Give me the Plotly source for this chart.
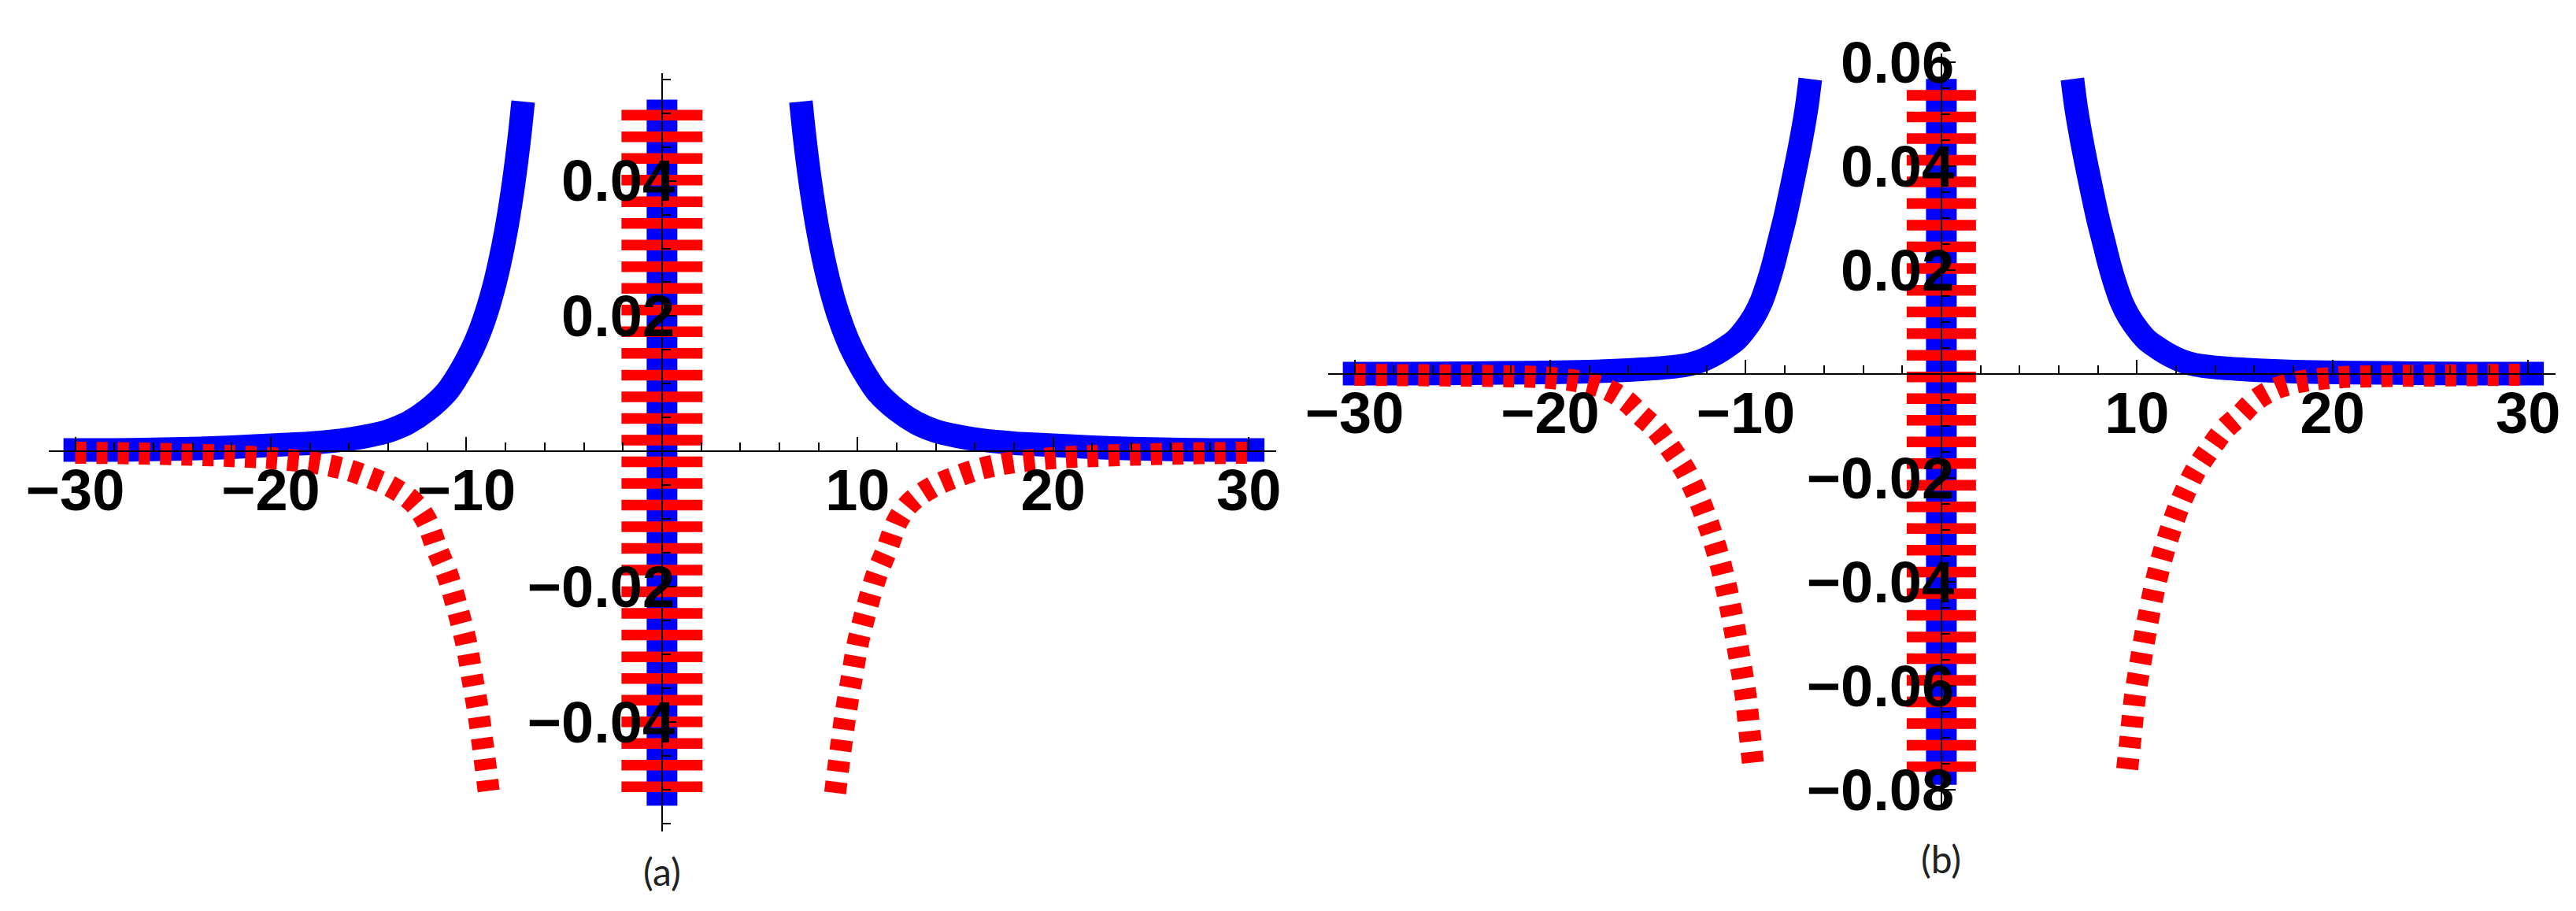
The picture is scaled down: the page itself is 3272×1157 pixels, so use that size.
import plotly.graph_objects as go

# ---------------- data ----------------
x_ticks = [-30, -20, -10, 10, 20, 30]
ya_ticks = [-0.04, -0.02, 0.02, 0.04]
yb_ticks = [-0.08, -0.06, -0.04, -0.02, 0.02, 0.04, 0.06]

# panel (a)
a_blue_left_x = [-30.6, -28, -26, -24, -22, -20, -18, -16, -15, -14, -13, -12, -11, -10.5, -10, -9.5, -9, -8.5, -8, -7.6, -7.3, -7.1]
a_blue_left_y = [0.0002, 0.0002, 0.0003, 0.0004, 0.0006, 0.0009, 0.0012, 0.0018, 0.0023, 0.0030, 0.0042, 0.0061, 0.0088, 0.0109, 0.0134, 0.0164, 0.0203, 0.0254, 0.0322, 0.0394, 0.0462, 0.0517]
a_blue_right_x = [7.1, 7.3, 7.6, 8, 8.5, 9, 9.5, 10, 10.5, 11, 12, 13, 14, 15, 16, 18, 20, 22, 24, 26, 28, 30.8]
a_blue_right_y = [0.0517, 0.0462, 0.0394, 0.0322, 0.0254, 0.0203, 0.0164, 0.0134, 0.0109, 0.0088, 0.0061, 0.0042, 0.0030, 0.0023, 0.0018, 0.0012, 0.0009, 0.0006, 0.0004, 0.0003, 0.0002, 0.0002]
a_red_left_x = [-30, -27, -24, -22, -20, -18, -17, -16, -15, -14, -13, -12.5, -12, -11.5, -11, -10.5, -10, -9.7, -9.4, -9.1, -8.85]
a_red_left_y = [-0.0002, -0.0003, -0.0005, -0.0007, -0.0010, -0.0016, -0.0021, -0.0028, -0.0038, -0.0050, -0.0068, -0.0082, -0.0105, -0.0145, -0.0180, -0.0228, -0.0285, -0.0335, -0.0385, -0.0448, -0.0505]
a_red_right_x = [8.85, 9.1, 9.4, 9.7, 10, 10.5, 11, 11.5, 12, 12.5, 13, 14, 15, 16, 17, 18, 20, 22, 24, 27, 30]
a_red_right_y = [-0.0505, -0.0448, -0.0385, -0.0335, -0.0285, -0.0228, -0.0180, -0.0145, -0.0105, -0.0082, -0.0068, -0.0050, -0.0038, -0.0028, -0.0021, -0.0016, -0.0010, -0.0007, -0.0005, -0.0003, -0.0002]
a_center_x = [0, 0]
a_center_blue_y = [0.0520, -0.0524]
a_center_red_y = [0.0505, -0.0504]

# panel (b)
b_blue_left_x = [-30.6, -27, -24, -21, -18, -16, -14, -13, -12.4, -11.5, -11, -10.5, -10.1, -9.6, -9.2, -8.9, -8.6, -8.3, -8.0, -7.6, -7.2, -6.9, -6.7]
b_blue_left_y = [0.0001, 0.0001, 0.0002, 0.0003, 0.0005, 0.0008, 0.0013, 0.0018, 0.0024, 0.0040, 0.0052, 0.0066, 0.0083, 0.0110, 0.0140, 0.0172, 0.0210, 0.0255, 0.0300, 0.0370, 0.0445, 0.0510, 0.0568]
b_blue_right_x = [6.7, 6.9, 7.2, 7.6, 8.0, 8.3, 8.6, 8.9, 9.2, 9.6, 10.1, 10.5, 11, 11.5, 12.4, 13, 14, 16, 18, 21, 24, 27, 30.8]
b_blue_right_y = [0.0568, 0.0510, 0.0445, 0.0370, 0.0300, 0.0255, 0.0210, 0.0172, 0.0140, 0.0110, 0.0083, 0.0066, 0.0052, 0.0040, 0.0024, 0.0018, 0.0013, 0.0008, 0.0005, 0.0003, 0.0002, 0.0001, 0.0001]
b_red_left_x = [-30, -27, -24, -22, -20.4, -19, -18.1, -17.3, -16.6, -16, -15.4, -14.6, -13.9, -13.1, -12.4, -11.9, -11.4, -11, -10.6, -10.3, -10, -9.8, -9.6]
b_red_left_y = [-0.0001, -0.0002, -0.0003, -0.0004, -0.0006, -0.0011, -0.0017, -0.0026, -0.0039, -0.0055, -0.0078, -0.0105, -0.0140, -0.0185, -0.0240, -0.0290, -0.0350, -0.0410, -0.0485, -0.0550, -0.0620, -0.0690, -0.0760]
b_red_right_x = [9.5, 9.7, 9.9, 10.2, 10.5, 10.9, 11.3, 11.8, 12.3, 13.0, 13.8, 14.5, 15.3, 15.9, 16.5, 17.2, 18.0, 18.9, 20.3, 22, 24, 27, 30]
b_red_right_y = [-0.0760, -0.0690, -0.0620, -0.0550, -0.0485, -0.0410, -0.0350, -0.0290, -0.0240, -0.0185, -0.0140, -0.0105, -0.0078, -0.0055, -0.0039, -0.0026, -0.0017, -0.0011, -0.0006, -0.0004, -0.0003, -0.0002, -0.0001]
b_center_x = [0, 0]
b_center_blue_y = [0.0568, -0.0790]
b_center_red_y = [0.0547, -0.0765]

# ---------------- layout constants ----------------
W, H = 3272, 1157
X_RANGE = [-31.35, 31.4]
A_YRANGE = [-0.0562, 0.0559]
B_YRANGE = [-0.0839, 0.0617]
A_BOX = (62, 1621, 93, 1056)     # x0, x1, ytop, ybottom in px
B_BOX = (1687, 3246, 68, 1029)

BLUE = "#0000ff"
RED = "#ff0000"
LW = 30
DASH = "14px,13px"
BAR_DASH = "13.5px,14.02px"

fig = go.Figure()


def add_panel(xa, ya, blue_l, blue_r, red_l, red_r, cx, cby, cry, red_center_w):
    for (xs, ys) in (blue_l, blue_r):
        fig.add_trace(go.Scatter(x=xs, y=ys, mode="lines", xaxis=xa, yaxis=ya,
                                 line=dict(color=BLUE, width=LW, shape="spline", smoothing=0.8),
                                 hoverinfo="skip", showlegend=False))
    fig.add_trace(go.Scatter(x=cx, y=cby, mode="lines", xaxis=xa, yaxis=ya,
                             line=dict(color=BLUE, width=39), hoverinfo="skip", showlegend=False))
    for (xs, ys) in (red_l, red_r):
        fig.add_trace(go.Scatter(x=xs, y=ys, mode="lines", xaxis=xa, yaxis=ya,
                                 line=dict(color=RED, width=LW - 2, dash=DASH, shape="spline", smoothing=0.8),
                                 hoverinfo="skip", showlegend=False))
    fig.add_trace(go.Scatter(x=cx, y=cry, mode="lines", xaxis=xa, yaxis=ya,
                             line=dict(color=RED, width=red_center_w, dash=BAR_DASH),
                             hoverinfo="skip", showlegend=False))


add_panel("x", "y", (a_blue_left_x, a_blue_left_y), (a_blue_right_x, a_blue_right_y),
          (a_red_left_x, a_red_left_y), (a_red_right_x, a_red_right_y),
          a_center_x, a_center_blue_y, a_center_red_y, 103)
add_panel("x2", "y2", (b_blue_left_x, b_blue_left_y), (b_blue_right_x, b_blue_right_y),
          (b_red_left_x, b_red_left_y), (b_red_right_x, b_red_right_y),
          b_center_x, b_center_blue_y, b_center_red_y, 88)

TICKFONT = dict(family="Liberation Sans, Arial, sans-serif", size=74, color="black", weight="bold")


def axis_pair(box, yrange, yticks):
    x0, x1, yt, yb = box
    xdom = [x0 / W, x1 / W]
    ydom = [1 - yb / H, 1 - yt / H]
    xpos = xdom[0] + (0 - X_RANGE[0]) / (X_RANGE[1] - X_RANGE[0]) * (xdom[1] - xdom[0])
    ypos = ydom[0] + (0 - yrange[0]) / (yrange[1] - yrange[0]) * (ydom[1] - ydom[0])
    xa = dict(domain=xdom, range=X_RANGE, anchor="free", position=ypos, side="bottom",
              automargin=False,
              tickmode="array", tickvals=x_ticks, ticks="inside", ticklen=17, tickwidth=2,
              tickcolor="black", showline=True, linecolor="black", linewidth=2,
              showgrid=False, zeroline=False, tickfont=TICKFONT, ticklabelstandoff=-15,
              minor=dict(tickmode="linear", tick0=0, dtick=2, ticks="inside", ticklen=10,
                         tickwidth=2, tickcolor="black", showgrid=False),
              fixedrange=True, layer="above traces")
    ya = dict(domain=ydom, range=yrange, anchor="free", position=xpos, side="left",
              automargin=False,
              tickmode="array", tickvals=yticks, tickformat=".2f", ticks="inside", ticklen=17,
              tickwidth=2, tickcolor="black", showline=True, linecolor="black", linewidth=2,
              showgrid=False, zeroline=False, tickfont=TICKFONT, ticklabelstandoff=-32,
              minor=dict(tickmode="linear", tick0=0, dtick=0.005, ticks="inside", ticklen=10,
                         tickwidth=2, tickcolor="black", showgrid=False),
              fixedrange=True, layer="above traces")
    return xa, ya, xpos


xa1, ya1, xo1 = axis_pair(A_BOX, A_YRANGE, ya_ticks)
xa2, ya2, xo2 = axis_pair(B_BOX, B_YRANGE, yb_ticks)

LABELFONT = dict(family="Lato, Open Sans, sans-serif", size=48, color="#222222")

fig.update_layout(
    template="none",
    width=W, height=H, autosize=False,
    margin=dict(l=0, r=0, t=0, b=0, autoexpand=False),
    paper_bgcolor="white", plot_bgcolor="white",
    xaxis=xa1, yaxis=ya1, xaxis2=xa2, yaxis2=ya2,
    showlegend=False,
    annotations=[
        dict(text="(a)", x=xo1, y=1 - 1106 / H, xref="paper", yref="paper", showarrow=False,
             xanchor="center", yanchor="middle", font=LABELFONT),
        dict(text="(b)", x=xo2, y=1 - 1090 / H, xref="paper", yref="paper", showarrow=False,
             xanchor="center", yanchor="middle", font=LABELFONT),
    ],
)

fig.write_html("out.html", config={"displayModeBar": False},
               post_script="document.body.style.margin='0';document.body.style.overflow='hidden';")
